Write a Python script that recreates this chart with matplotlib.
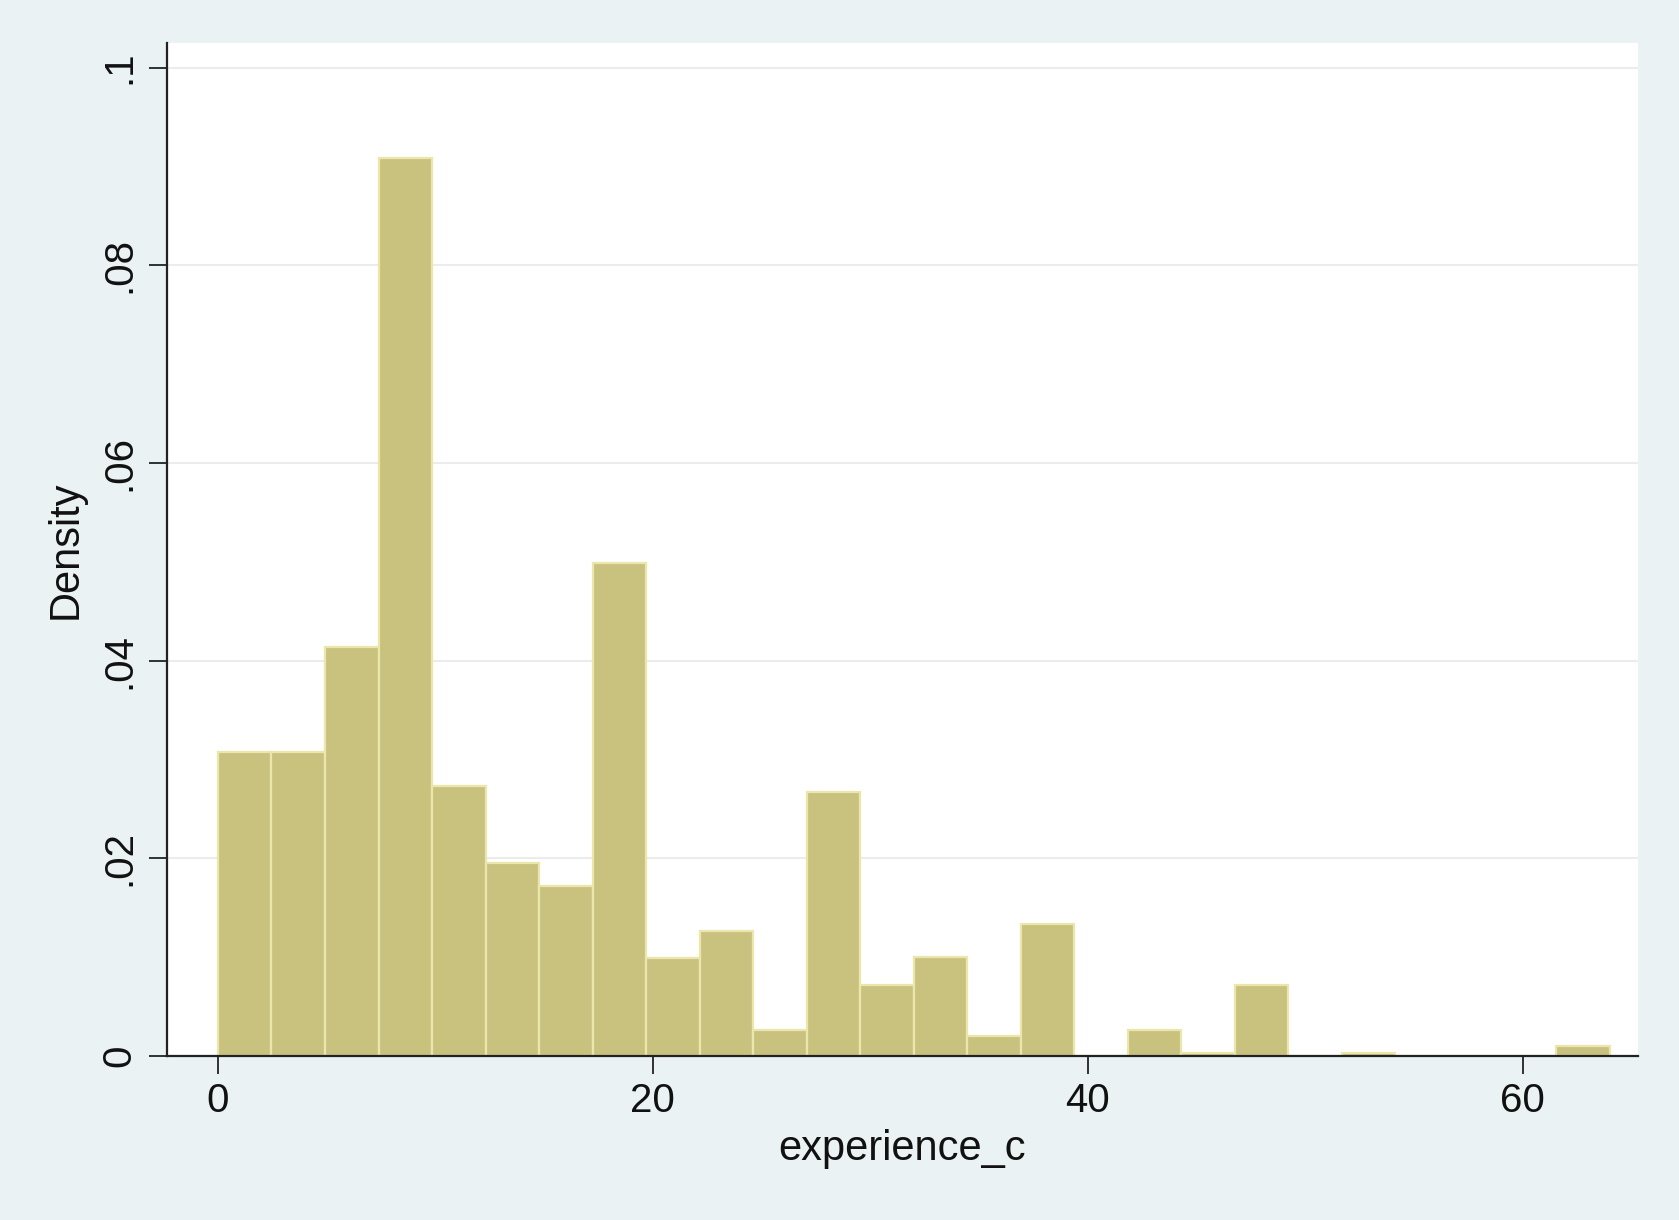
import numpy as np
import matplotlib
matplotlib.use("Agg")
import matplotlib.pyplot as plt

# histogram of experience_c: 26 bins over [0, 64], density scale
bin_lo = 0
bin_hi = 64
n_bins = 26
density = [0.0308, 0.0308, 0.0414, 0.0909, 0.0273, 0.0195, 0.0172, 0.0499,
           0.0099, 0.0127, 0.0026, 0.0267, 0.0072, 0.0100, 0.0020, 0.0134,
           0.0, 0.0026, 0.0003, 0.0072, 0.0, 0.0003, 0.0, 0.0, 0.0, 0.0010]

xticks = [0, 20, 40, 60]
yticks = [0, 0.02, 0.04, 0.06, 0.08, 0.1]
ytick_labels = ["0", ".02", ".04", ".06", ".08", ".1"]

bg = "#eaf2f3"
bar_fill = "#c9c27f"
bar_edge = "#ebe6ac"

plt.rcParams['font.family'] = ['Liberation Sans', 'DejaVu Sans']

fig = plt.figure(figsize=(16.79, 12.20), dpi=100, facecolor=bg)
ax = fig.add_axes([0.0995, 0.1344, 0.876, 0.8304])
ax.set_facecolor("white")

edges = np.linspace(bin_lo, bin_hi, n_bins + 1)
ax.bar(edges[:-1], density, width=np.diff(edges), align="edge",
       color=bar_fill, edgecolor=bar_edge, linewidth=1.6, zorder=3)

ax.set_xlim(-2.34, 65.3)
ax.set_ylim(0, 0.1025)

ax.set_xticks(xticks)
ax.set_yticks(yticks)
ax.set_yticklabels(ytick_labels, rotation=90, va="center")
ax.tick_params(axis="both", labelsize=29, length=13, width=1.3, color="#222222",
               labelcolor="#111111")
ax.tick_params(axis="x", pad=6)
ax.tick_params(axis="y", pad=8)

ax.grid(axis="y", color="#ececec", linewidth=1.5, zorder=0)

for s in ["top", "right"]:
    ax.spines[s].set_visible(False)
for s in ["left", "bottom"]:
    ax.spines[s].set_color("#222222")
    ax.spines[s].set_linewidth(1.6)
    ax.spines[s].set_zorder(4)

ax.set_xlabel("experience_c", fontsize=30, color="#111111", labelpad=6)
ax.set_ylabel("Density", fontsize=30, color="#111111", labelpad=10)

fig.savefig("out.png", dpi=100, facecolor=bg)
